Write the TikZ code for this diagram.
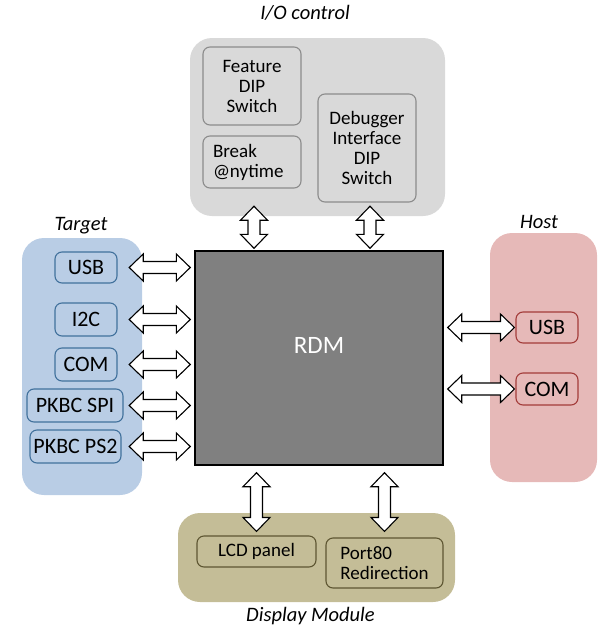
\documentclass[tikz,border=0pt]{standalone}
\usepackage{fontspec}
\setmainfont{Carlito}
\usetikzlibrary{calc}

\definecolor{iofill}{HTML}{D9D9D9}
\definecolor{ioline}{HTML}{8C8C8C}
\definecolor{tgtfill}{HTML}{B9CDE5}
\definecolor{tgtline}{HTML}{41719C}
\definecolor{hostfill}{HTML}{E6B9B8}
\definecolor{hostline}{HTML}{A33C3A}
\definecolor{dispfill}{HTML}{C4BD97}
\definecolor{displine}{HTML}{5E5632}
\definecolor{rdmfill}{HTML}{808080}

\tikzset{
  group/.style={rounded corners=22pt, inner sep=0pt},
  item/.style={draw, rounded corners=7pt, line width=1.1pt, inner sep=0pt, align=center},
  title/.style={font=\fontsize{20.5}{22}\selectfont\itshape},
  big/.style={font=\fontsize{22}{24}\selectfont},
  small/.style={font=\fontsize{19}{20}\selectfont},
  blockarrow/.style={draw=black, fill=white, line width=1.1pt, line join=miter,
    to path={
      -- ($(\tikztostart)!14pt!(\tikztotarget)!13.5pt!90:(\tikztotarget)$)
      -- ($(\tikztostart)!14pt!(\tikztotarget)!6pt!90:(\tikztotarget)$)
      -- ($(\tikztotarget)!14pt!(\tikztostart)!6pt!-90:(\tikztostart)$)
      -- ($(\tikztotarget)!14pt!(\tikztostart)!13.5pt!-90:(\tikztostart)$)
      -- (\tikztotarget)
      -- ($(\tikztotarget)!14pt!(\tikztostart)!13.5pt!90:(\tikztostart)$)
      -- ($(\tikztotarget)!14pt!(\tikztostart)!6pt!90:(\tikztostart)$)
      -- ($(\tikztostart)!14pt!(\tikztotarget)!6pt!-90:(\tikztotarget)$)
      -- ($(\tikztostart)!14pt!(\tikztotarget)!13.5pt!-90:(\tikztotarget)$)
      -- cycle}}
}

\begin{document}
\begin{tikzpicture}[x=1pt, y=-1pt]
\useasboundingbox (0,0) rectangle (613,640);
% group boxes
	\node[group, fill=iofill, minimum width=255, minimum height=178] (io) at (317.5,127) {};
	\node[group, fill=tgtfill, minimum width=120, minimum height=257] (target) at (82,366.5) {};
	\node[group, fill=hostfill, minimum width=107, minimum height=249] (host) at (543.5,357.5) {};
	\node[group, fill=dispfill, minimum width=277, minimum height=89] (disp) at (316.5,557.5) {};
% titles
	\node[title] (iotitle) at (305,13) {I/O control};
	\node[title] (tgttitle) at (81,226) {Target};
	\node[title] (hosttitle) at (539,222) {Host};
	\node[title] (disptitle) at (310.5,616) {Display Module};
% I/O control
	\node[item, small, draw=ioline, fill=iofill, minimum width=98, minimum height=78] (iofeat) at (252,86) {Feature\\DIP\\Switch};
	\node[item, small, draw=ioline, fill=iofill, minimum width=98, minimum height=52, text width=78, align=left] (iobreak) at (252,162) {Break\\@nytime};
	\node[item, small, draw=ioline, fill=iofill, minimum width=98, minimum height=108] (iodbg) at (367,148) {Debugger\\Interface\\DIP\\Switch};
% Target
	\node[item, big, draw=tgtline, fill=tgtfill, minimum width=62, minimum height=31] (tusb) at (86,267.5) {USB};
	\node[item, big, draw=tgtline, fill=tgtfill, minimum width=62, minimum height=33] (ti2c) at (86,319.5) {I2C};
	\node[item, big, draw=tgtline, fill=tgtfill, minimum width=62, minimum height=33] (tcom) at (86,364.5) {COM};
	\node[item, big, draw=tgtline, fill=tgtfill, minimum width=96, minimum height=33] (tspi) at (75,405.5) {PKBC SPI};
	\node[item, big, draw=tgtline, fill=tgtfill, minimum width=91, minimum height=33] (tps2) at (75.5,446.5) {PKBC PS2};
% Host
	\node[item, big, draw=hostline, fill=hostfill, minimum width=62, minimum height=31] (husb) at (547,327.5) {USB};
	\node[item, big, draw=hostline, fill=hostfill, minimum width=62, minimum height=32] (hcom) at (547,389) {COM};
% Display Module
	\node[item, small, draw=displine, fill=dispfill, minimum width=119, minimum height=31] (lcd) at (256.5,551.5) {LCD panel};
	\node[item, small, draw=displine, fill=dispfill, minimum width=117, minimum height=50, align=left] (port) at (384.5,563) {Port80\\Redirection};
% RDM
	\node[draw=black, fill=rdmfill, line width=1.4pt, minimum width=248, minimum height=214] (rdm) at (319,358) {};
	\node[text=white, font=\fontsize{25}{27}\selectfont] (rdmtext) at ($(rdm.center)+(0,-13)$) {RDM};
% arrows
	\foreach \t in {tusb, ti2c, tcom, tspi, tps2}
		\draw[blockarrow] ($(target.east |- \t)+(-13,0)$) to ($(rdm.west |- \t)+(-4,0)$);
	\foreach \h in {husb, hcom}
		\draw[blockarrow] ($(rdm.east |- \h)+(4,0)$) to ($(\h.west)+(-1,0)$);
	\draw[blockarrow] ($(io.south -| iofeat)+(2,-10)$) to ($(rdm.north -| iofeat)+(2,-2)$);
	\draw[blockarrow] ($(io.south -| iodbg)+(3,-10)$) to ($(rdm.north -| iodbg)+(3,-2)$);
	\draw[blockarrow] ($(rdm.south -| lcd)+(0,7)$) to ($(lcd.north)+(0,-4)$);
	\draw[blockarrow] ($(rdm.south -| port)+(0,7)$) to ($(port.north)+(0,-6)$);
\end{tikzpicture}
\end{document}
